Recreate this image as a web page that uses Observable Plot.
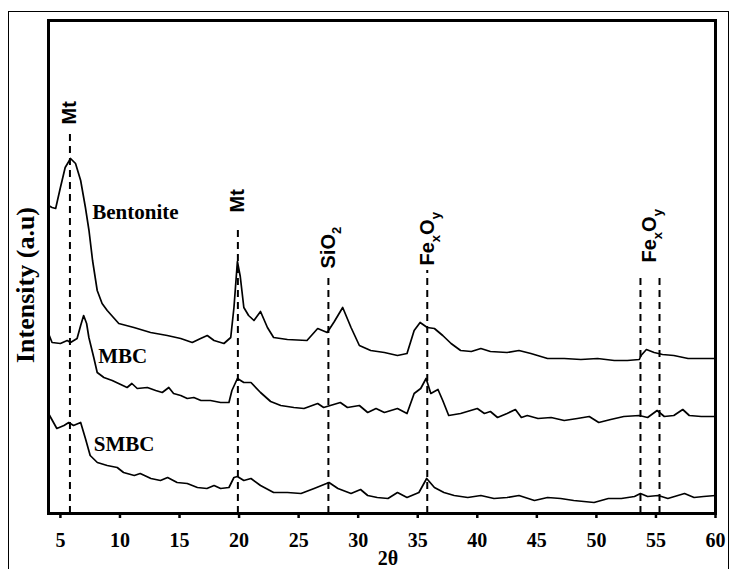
<!DOCTYPE html>
<html>
<head>
<meta charset="utf-8">
<script src="https://cdn.jsdelivr.net/npm/d3@7"></script>
<script src="https://cdn.jsdelivr.net/npm/@observablehq/plot@0.6"></script>
<style>
  html, body { margin: 0; padding: 0; background: #fff; overflow: hidden; }
  #wrap { position: relative; width: 735px; height: 569px; }
  #border { position: absolute; left: 8px; top: 11px; width: 719px; height: 600px; border: 1.5px solid #000; pointer-events: none; }
</style>
</head>
<body>
<div id="wrap"><div id="chart"></div><div id="border"></div></div>
<script>
// ---- data (2θ in degrees, intensity in arbitrary units) ----
const bentoniteX = [4.0,4.3,4.6,5.0,5.4,5.85,6.27,6.7,7.1,7.4,7.7,8.09,8.5,8.93,9.9,11.17,12.57,13.97,15.1,16.07,16.77,17.33,17.9,18.73,19.3,19.57,19.86,20.1,20.4,20.8,21.25,21.8,22.38,22.9,24.06,25.7,26.6,27.4,28.0,28.7,29.4,30.1,31.05,32.2,33.3,34.1,34.7,35.2,35.8,36.4,37.1,37.8,38.6,39.5,40.3,41.1,42.5,43.5,44.5,45.9,47.3,48.7,50.1,51.5,52.6,53.6,53.75,54.2,54.85,55.55,56.5,57.7,58.8,60.0];
const bentoniteY = [308,306,305,326,346,355,350,333,306,283,253,223,210,203,190,186,181,178,175,171,175,178,173,170,176,206,252,237,206,198,193,202,186,176,174,173,185,181,192,206,186,168,163,161,158,160,183,191,186,185,178,170,163,162,165,162,161,163,160,155,155,154,155,153,153,154,158,164,161,159,158,155,155,155];

const mbcX = [4.0,4.3,5.0,5.57,5.85,6.4,6.7,6.95,7.2,7.39,7.8,8.09,8.65,9.35,10.6,11.0,11.45,12.3,13.0,13.55,14.1,14.5,15.1,15.65,16.2,16.8,17.6,18.45,19.15,19.4,19.86,20.4,21.0,21.8,22.65,23.5,24.6,25.45,26.6,27.1,28.5,29.1,30.1,30.8,31.5,32.2,33.3,34.1,34.7,35.25,35.7,36.1,36.7,37.1,37.6,38.6,40.0,40.6,41.1,41.7,42.5,43.2,43.7,44.2,45.1,46.2,47.3,48.4,49.4,50.2,51.2,52.3,53.6,54.3,55.1,55.7,56.5,57.25,57.8,58.8,60.0];
const mbcY = [180,171,170,173,171,175,188,198,190,176,156,141,136,133,126,130,125,126,123,121,126,120,118,115,116,113,113,111,111,123,135,131,131,121,112,108,106,105,110,106,111,106,108,101,105,101,105,100,120,125,135,120,124,113,98,100,105,100,102,96,100,104,96,98,95,96,93,95,97,91,94,97,98,96,103,97,98,104,98,97,97];

const smbcX = [4.0,4.7,5.3,5.7,6.1,6.7,7.1,7.5,8.1,8.93,9.77,10.3,11.2,11.7,12.6,13.4,14.0,14.8,15.65,16.5,17.3,17.9,18.45,19.15,19.57,19.86,20.4,21.0,21.8,22.9,24.06,25.2,26.3,27.55,28.3,29.4,30.2,30.8,31.6,32.5,33.3,34.1,35.1,35.75,36.4,37.2,38.06,39.2,40.3,41.4,42.5,43.5,44.8,45.9,47.0,48.1,49.8,51.0,52.1,53.2,53.7,54.3,55.2,56.0,57.4,58.2,59.0,60.0];
const smbcY = [100,85,88,91,88,91,75,58,51,48,46,41,38,40,35,33,36,31,30,26,25,28,25,26,36,37,33,35,28,21,21,20,25,31,25,20,24,18,16,15,21,16,21,35,26,21,18,16,18,15,16,18,13,16,15,13,11,15,15,17,20,17,18,15,20,16,17,18];

const xTicks = [5,10,15,20,25,30,35,40,45,50,55,60];

// reference (dashed) lines at peak positions
const markerX = [5.8, 19.9, 27.5, 35.8, 53.7, 55.3];
const markerTop = [384, 288, 237, 243, 239, 237];

// phase labels
const phaseNames = ["Mt", "Mt", "SiO2", "FexOy", "FexOy"];
const phaseX = [5.8, 19.9, 27.5, 35.8, 54.5];
const phaseY = [389, 301, 245, 248, 251];

// sample labels
const sampleNames = ["Bentonite", "MBC", "SMBC"];
const sampleX = [7.67, 8.18, 7.8];
const sampleY = [301, 157, 69];

// ---- build tables ----
const curves = [
  ...bentoniteX.map((x, i) => ({sample: "Bentonite", x, y: bentoniteY[i]})),
  ...mbcX.map((x, i) => ({sample: "MBC", x, y: mbcY[i]})),
  ...smbcX.map((x, i) => ({sample: "SMBC", x, y: smbcY[i]}))
];
const markers = markerX.map((x, i) => ({x, top: markerTop[i]}));
const phases = phaseNames.map((t, i) => ({t, x: phaseX[i], y: phaseY[i]}));
const samples = sampleNames.map((t, i) => ({t, x: sampleX[i], y: sampleY[i]}));

const serif = "'Liberation Serif', 'Times New Roman', serif";
const sans = "'Liberation Sans', Arial, sans-serif";

const plot = Plot.plot({
  width: 735,
  height: 569,
  marginLeft: 48,
  marginRight: 20,
  marginTop: 20,
  marginBottom: 56,
  style: {fontFamily: serif, fontWeight: "bold", fontSize: "20px", color: "#000", background: "#fff"},
  x: {domain: [4, 60], ticks: xTicks, tickSize: 5, tickPadding: 14, label: null},
  y: {domain: [0, 493], axis: null},
  marks: [
    Plot.ruleX(markers, {x: "x", y1: 0, y2: "top", stroke: "#000", strokeWidth: 2, strokeDasharray: "7,5"}),
    Plot.line(curves, {x: "x", y: "y", z: "sample", stroke: "#000", strokeWidth: 1.7, strokeLinejoin: "round"}),
    Plot.text(phases, {x: "x", y: "y", text: "t", rotate: -90, textAnchor: "start", lineAnchor: "middle",
      fontFamily: sans, fontWeight: "bold", fontSize: 20, fill: "#000"}),
    Plot.text(samples, {x: "x", y: "y", text: "t", textAnchor: "start", lineAnchor: "middle",
      fontFamily: serif, fontWeight: "bold", fontSize: 21, fill: "#000"}),
    Plot.text(["Intensity (a.u)"], {frameAnchor: "left", dx: -23, dy: 18, rotate: -90, textAnchor: "middle", lineAnchor: "middle",
      fontFamily: serif, fontWeight: "bold", fontSize: 26, fill: "#000"}),
    Plot.text(["2θ"], {frameAnchor: "bottom", dx: 6, dy: 37, lineAnchor: "top",
      fontFamily: serif, fontWeight: "bold", fontSize: 20, fill: "#000"}),
    Plot.frame({stroke: "#000", strokeWidth: 3})
  ]
});

document.getElementById("chart").appendChild(plot);

// thicker tick marks
plot.querySelectorAll('g[aria-label^="x-axis"] line, g[aria-label^="x-axis"] path').forEach(el => {
  el.setAttribute("stroke-width", "2.5");
});

// subscripts for chemical formulas
const subs = {"SiO2": [["SiO", false], ["2", true]], "FexOy": [["Fe", false], ["x", true], ["O", false], ["y", true]]};
plot.querySelectorAll("text").forEach(el => {
  const parts = subs[el.textContent];
  if (!parts) return;
  el.textContent = "";
  let shifted = false;
  for (const [s, sub] of parts) {
    const ts = document.createElementNS("http://www.w3.org/2000/svg", "tspan");
    ts.textContent = s;
    if (sub && !shifted) { ts.setAttribute("dy", "6"); shifted = true; }
    else if (!sub && shifted) { ts.setAttribute("dy", "-6"); shifted = false; }
    if (sub) ts.setAttribute("font-size", "13");
    el.appendChild(ts);
  }
});
</script>
</body>
</html>
